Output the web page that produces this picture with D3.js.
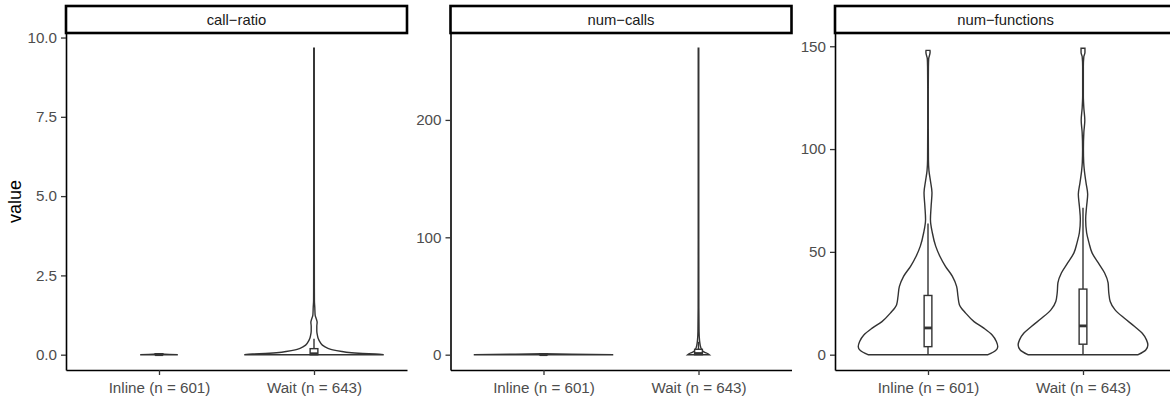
<!DOCTYPE html>
<html>
<head>
<meta charset="utf-8">
<script src="https://cdn.jsdelivr.net/npm/d3@7"></script>
<style>
  body { margin: 0; background: #fff; }
  text { font-family: "Liberation Sans", Arial, sans-serif; }
</style>
</head>
<body>
<div id="chart"></div>
<script>
// facets and groups
const panelNames = ['call\u2212ratio', 'num\u2212calls', 'num\u2212functions'];
const groupNames = ['Inline (n = 601)', 'Wait (n = 643)'];
const yTicks = [[0, 2.5, 5, 7.5, 10], [0, 100, 200], [0, 50, 100, 150]];
const tickFormats = ['.1f', 'd', 'd'];

// violin outlines: [value, relative half width]
const ratioInline = [[0, 0.27], [0.01, 0.15], [0.02, 0.01]];
const ratioWait = [[0, 1.0], [0.02, 0.88], [0.04, 0.7], [0.07, 0.5], [0.1, 0.4],
  [0.15, 0.27], [0.2, 0.2], [0.3, 0.12], [0.4, 0.085], [0.5, 0.062], [0.6, 0.05],
  [0.75, 0.04], [0.9, 0.04], [1.02, 0.045], [1.12, 0.034], [1.25, 0.016],
  [1.5, 0.011], [1.7, 0.006], [2.5, 0.005], [5, 0.004], [9.66, 0.004]];
const callsInline = [[0, 1.0], [0.4, 0.4], [0.8, 0.01]];
const callsWait = [[0, 0.155], [1, 0.13], [2, 0.09], [3, 0.06], [5, 0.04], [8, 0.025],
  [12, 0.015], [20, 0.008], [40, 0.005], [100, 0.004], [261, 0.004]];
const funcsInline = [[0, 0.86], [2, 0.97], [3.9, 1.0], [6.4, 0.98], [9.6, 0.92],
  [12.9, 0.8], [16.1, 0.66], [20.2, 0.54], [24.3, 0.45], [28.3, 0.43], [33.2, 0.41],
  [38.1, 0.35], [43, 0.25], [47.9, 0.17], [52.8, 0.11], [59.3, 0.062], [65.8, 0.035],
  [72.3, 0.045], [78.8, 0.057], [84.5, 0.035], [89.4, 0.014], [95, 0.006],
  [110, 0.004], [130, 0.004], [140, 0.006], [144, 0.01], [146, 0.025], [147.2, 0.03],
  [148, 0.028]];
const funcsWait = [[0, 0.79], [2.3, 0.9], [4.7, 0.93], [7.2, 0.91], [10.4, 0.85],
  [13.7, 0.74], [17.8, 0.59], [21.8, 0.46], [25.9, 0.39], [30, 0.37], [34.9, 0.36],
  [39.7, 0.31], [44.6, 0.22], [49.5, 0.13], [54.4, 0.086], [59.3, 0.052], [65.8, 0.038],
  [72.3, 0.052], [78, 0.067], [83.7, 0.043], [89.4, 0.02], [93.5, 0.01], [100, 0.006],
  [108, 0.012], [114, 0.026], [120, 0.012], [126, 0.005], [140, 0.005], [145, 0.012],
  [147, 0.028], [149, 0.028]];

// box stats: [lower whisker, q1, median, q3, upper whisker]
const ratioBoxes = [[0, 0, 0, 0.03, 0], [0, 0, 0.03, 0.19, 0.5]];
const callsBoxes = [[0, 0, 0, 0.8, 0], [0, 0, 1, 4.6, 11]];
const funcsBoxes = [[0, 3.9, 13, 28.8, 63.8], [0, 5.1, 14, 31.9, 71.5]];

const violins = [[ratioInline, ratioWait], [callsInline, callsWait], [funcsInline, funcsWait]];
const boxes = [ratioBoxes, callsBoxes, funcsBoxes];

const width = 1170;
const height = 400;
const panelX = [66, 450.5, 835];
const panelW = 341;
const stripTop = 6;
const plotTop = 33;
const plotBottom = 370;
const ink = '#333333';

const svg = d3.select('#chart')
  .append('svg')
  .attr('width', width)
  .attr('height', height);

panelNames.forEach(function (name, p) {
  const x0 = panelX[p];
  const g = svg.append('g');

  const all = violins[p].flat();
  const vMin = d3.min(all, function (d) { return d[0]; });
  const vMax = d3.max(all, function (d) { return d[0]; });
  const pad = (vMax - vMin) * 0.05;

  const y = d3.scaleLinear()
    .domain([vMin - pad, vMax + pad])
    .range([plotBottom, plotTop]);

  const x = d3.scalePoint()
    .domain(groupNames)
    .range([x0, x0 + panelW])
    .padding(0.6);

  const w = d3.scaleLinear()
    .domain([0, 1])
    .range([0, x.step() * 0.45]);

  const boxHalf = x.step() * 0.025;

  // violins
  groupNames.forEach(function (grp, i) {
    const cx = x(grp);
    const area = d3.area()
      .y(function (d) { return y(d[0]); })
      .x0(function (d) { return cx - w(d[1]); })
      .x1(function (d) { return cx + w(d[1]); })
      .curve(d3.curveMonotoneY);

    g.append('path')
      .datum(violins[p][i])
      .attr('d', area)
      .attr('fill', '#fff')
      .attr('stroke', ink)
      .attr('stroke-width', 1.4);

    const b = boxes[p][i];
    g.append('line')
      .attr('x1', cx).attr('x2', cx)
      .attr('y1', y(b[3])).attr('y2', y(b[4]))
      .attr('stroke', ink).attr('stroke-width', 1.4);
    g.append('line')
      .attr('x1', cx).attr('x2', cx)
      .attr('y1', y(b[0])).attr('y2', y(b[1]))
      .attr('stroke', ink).attr('stroke-width', 1.4);
    g.append('rect')
      .attr('x', cx - boxHalf)
      .attr('width', boxHalf * 2)
      .attr('y', y(b[3]))
      .attr('height', Math.max(0, y(b[1]) - y(b[3])))
      .attr('fill', '#fff')
      .attr('stroke', ink)
      .attr('stroke-width', 1.4);
    g.append('line')
      .attr('x1', cx - boxHalf).attr('x2', cx + boxHalf)
      .attr('y1', y(b[2])).attr('y2', y(b[2]))
      .attr('stroke', ink).attr('stroke-width', 2.8);
  });

  // axes
  const yAxis = g.append('g')
    .attr('transform', `translate(${x0},0)`)
    .call(d3.axisLeft(y)
      .tickValues(yTicks[p])
      .tickFormat(d3.format(tickFormats[p]))
      .tickSize(5)
      .tickSizeOuter(0)
      .tickPadding(4));

  const xAxis = g.append('g')
    .attr('transform', `translate(0,${plotBottom})`)
    .call(d3.axisBottom(x)
      .tickSize(5)
      .tickSizeOuter(0)
      .tickPadding(4));

  [yAxis, xAxis].forEach(function (ax) {
    ax.select('.domain').attr('stroke', '#000').attr('stroke-width', 1.6);
    ax.selectAll('.tick line').attr('stroke', ink).attr('stroke-width', 1.3);
    ax.selectAll('.tick text')
      .attr('fill', '#4d4d4d')
      .style('font-size', '15.2px')
      .style('font-family', '"Liberation Sans", Arial, sans-serif');
  });
  xAxis.selectAll('.tick text').attr('dy', '0.9em');

  // strip
  g.append('rect')
    .attr('x', x0)
    .attr('y', stripTop)
    .attr('width', panelW)
    .attr('height', plotTop - stripTop)
    .attr('fill', '#fff')
    .attr('stroke', '#000')
    .attr('stroke-width', 2.6);

  g.append('text')
    .attr('x', x0 + panelW / 2)
    .attr('y', (stripTop + plotTop) / 2)
    .attr('dy', '0.35em')
    .attr('text-anchor', 'middle')
    .style('font-size', '14.8px')
    .attr('fill', '#1a1a1a')
    .text(name);
});

svg.append('text')
  .attr('transform', `translate(21,${(plotTop + plotBottom) / 2}) rotate(-90)`)
  .attr('text-anchor', 'middle')
  .style('font-size', '18px')
  .attr('fill', '#000')
  .text('value');
</script>
</body>
</html>
